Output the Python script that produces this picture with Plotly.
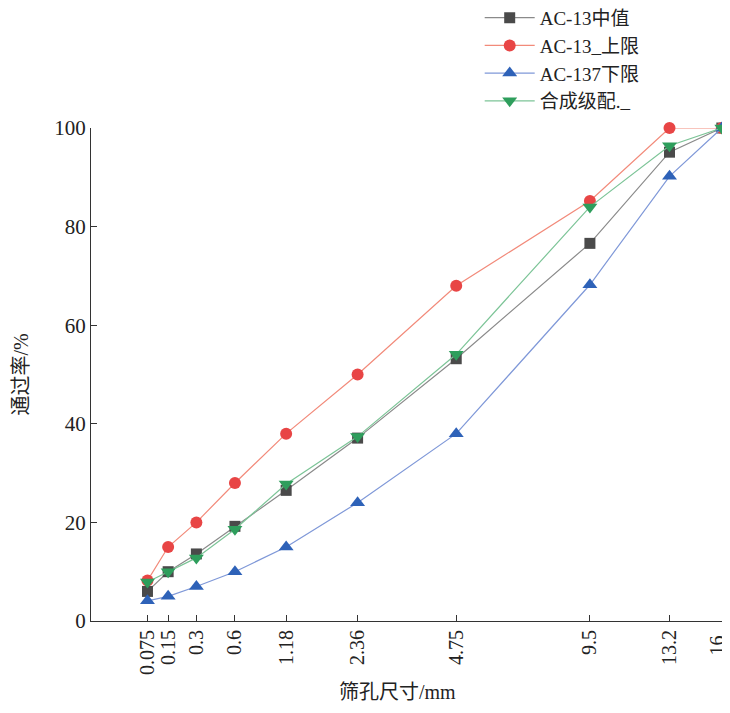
import numpy as np
import plotly.graph_objects as go

sizes = [0.075, 0.15, 0.3, 0.6, 1.18, 2.36, 4.75, 9.5, 13.2, 16]
size_labels = ["0.075", "0.15", "0.3", "0.6", "1.18", "2.36", "4.75", "9.5", "13.2", "16"]
median_vals = [6, 10, 13.6, 19.2, 26.5, 37.1, 53.2, 76.6, 95.1, 100]
upper_vals = [8.2, 15, 20, 28, 38, 50, 68, 85.2, 100, 100]
lower_vals = [4.1, 5, 7, 10, 15, 24, 38, 68.2, 90.2, 100]
blend_vals = [7.9, 10, 12.8, 18.6, 27.8, 37.4, 54.1, 84, 96.4, 100]

y_ticks = [0, 20, 40, 60, 80, 100]

xpos = [s ** 0.45 for s in sizes]

series = [
    ("AC-13中值", median_vals, "square", "#4a4a4a", "#8a8a8a", 11),
    ("AC-13_上限", upper_vals, "circle", "#e84545", "#f28a7a", 12),
    ("AC-137下限", lower_vals, "triangle-up", "#2e62b8", "#7f98d8", 13),
    ("合成级配._", blend_vals, "triangle-down", "#2e9e5c", "#7cc497", 13),
]

fig = go.Figure()
for name, vals, sym, mc, lc, ms in series:
    fig.add_trace(go.Scatter(
        x=xpos, y=vals, name=name, mode="lines+markers",
        line=dict(color=lc, width=1.2),
        marker=dict(symbol=sym, color=mc, size=ms),
        cliponaxis=False,
    ))

font_fam = "Liberation Serif, Noto Sans CJK SC, serif"

# the last tick label sits at the window edge: draw it as an annotation nudged left
axis_ticktext = size_labels[:-1] + [""]

fig.update_layout(
    width=722, height=705,
    margin=dict(l=83, r=8, t=120, b=92, autoexpand=False),
    plot_bgcolor="white", paper_bgcolor="white",
    font=dict(family=font_fam, size=18, color="#222"),
    showlegend=True,
    legend=dict(x=0.616, y=1.262, xanchor="left", yanchor="top",
                font=dict(size=19, family=font_fam, color="#222"),
                bgcolor="rgba(0,0,0,0)", tracegroupgap=0, itemwidth=50),
    xaxis=dict(
        range=[0, 16 ** 0.45 + 0.001], tickvals=xpos, ticktext=axis_ticktext,
        tickangle=-90, ticks="inside", ticklen=6, tickcolor="#333",
        showline=True, linecolor="#333", linewidth=1.2, showgrid=False,
        zeroline=False, tickfont=dict(size=20),
    ),
    yaxis=dict(
        range=[0, 100], tickvals=y_ticks, ticks="inside", ticklen=6,
        tickcolor="#333", showline=True, linecolor="#333", linewidth=1.2,
        showgrid=False, zeroline=False, tickfont=dict(size=21),
        title=dict(text="通过率/%", font=dict(size=20), standoff=20),
    ),
    annotations=[
        dict(text="筛孔尺寸/mm", xref="paper", yref="paper",
             x=0.4865, y=-0.145, xanchor="center", yanchor="middle",
             showarrow=False, font=dict(size=20, family=font_fam, color="#222")),
        dict(text=size_labels[-1], xref="x", yref="paper",
             x=xpos[-1], y=-0.028, xanchor="right", yanchor="top",
             textangle=-90, xshift=7, showarrow=False, borderpad=0,
             font=dict(size=20, family=font_fam, color="#222")),
    ],
)

fig.write_html("out.html")
